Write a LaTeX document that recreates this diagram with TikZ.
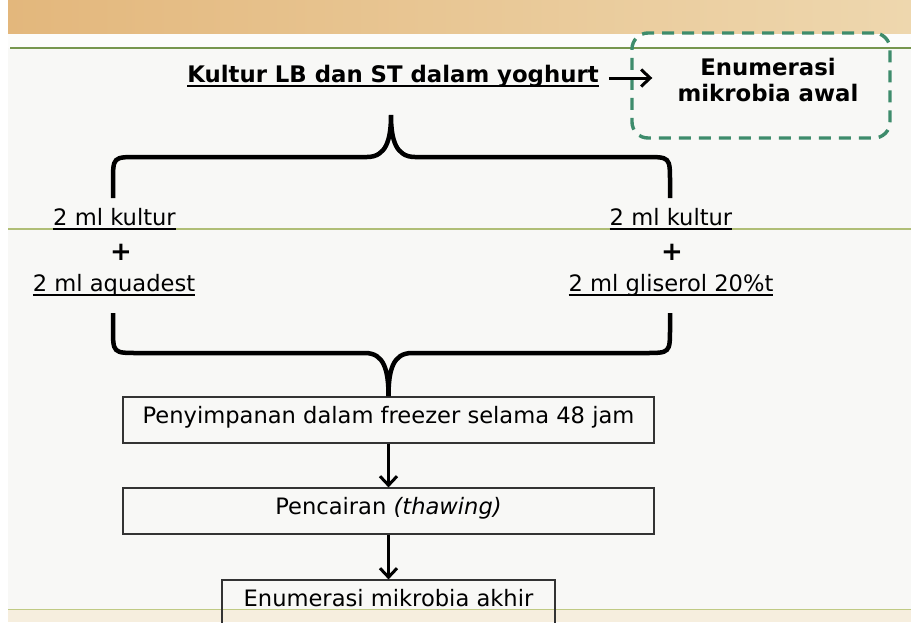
\documentclass[tikz,border=0pt]{standalone}
\usepackage{fontspec}
\setmainfont{DejaVu Sans}
\usetikzlibrary{arrows.meta}
\definecolor{bgc}{RGB}{248,248,246}
\definecolor{barL}{RGB}{227,183,124}
\definecolor{barR}{RGB}{238,215,174}
\definecolor{gTop}{RGB}{118,150,78}
\definecolor{gMid}{RGB}{176,190,118}
\definecolor{gBot}{RGB}{192,202,132}
\definecolor{tintB}{RGB}{246,238,222}
\definecolor{dashc}{RGB}{62,140,108}
\newcommand\myul[2][1.6pt]{\setbox0=\hbox{#2}\rlap{\rule[-5pt]{\wd0}{#1}}\box0}
\tikzset{
  txt/.style={inner sep=0pt, font=\fontsize{22.6}{26}\selectfont},
  btxt/.style={inner sep=0pt, font=\fontsize{22.8}{26}\selectfont\bfseries},
  plustxt/.style={inner sep=0pt, font=\fontsize{26}{26}\selectfont\bfseries},
  stepbox/.style={draw=black!80, line width=1.2pt, minimum height=46pt,
    text height=16pt, text depth=10pt, inner sep=0pt,
    font=\fontsize{22.6}{26}\selectfont},
  flow/.style={line width=3pt, -{Straight Barb[length=9pt,width=17pt]}},
  bracestyle/.style={line width=4.5pt},
  dashbox/.style={draw=dashc, line width=3.4pt, dash pattern=on 12pt off 8pt,
    rounded corners=16pt, minimum width=258pt, minimum height=105pt, inner sep=0pt}
}
\begin{document}
\begin{tikzpicture}[x=1pt,y=-1pt]
\useasboundingbox (0,0) rectangle (911,622);
\clip (0,0) rectangle (911,622);
% background
\fill[white] (0,0) rectangle (911,622);
\fill[bgc] (8,0) rectangle (911,622);
\shade[left color=barL, right color=barR] (8,0) rectangle (911,34);
\fill[white!60!bgc] (8,34) rectangle (911,48);
\draw[gTop, line width=1.5pt] (10,48) -- (911,48);
\draw[gMid, line width=1.3pt] (8,229) -- (911,229);
\fill[tintB] (8,610) rectangle (911,622);
\draw[gBot, line width=1.5pt] (8,609.5) -- (911,609.5);

% title and initial enumeration
\node[btxt, anchor=base] (title) at (393,82) {\myul[2.2pt]{Kultur LB dan ST dalam yoghurt}};
\node[dashbox] (dbox) at (761,85.5) {};
\node[btxt, align=center] (enum0) at (768,79.5) {Enumerasi\\mikrobia awal};
\coordinate (a1) at ([xshift=10pt,yshift=4pt]title.base east);
\coordinate (a2) at ([xshift=22pt]dbox.west |- a1);
\draw[flow] (a1) -- (a2);

% left and right mixtures
\node[txt, anchor=base] (lk) at (114.5,225) {\myul{2 ml kultur}};
\node[plustxt, anchor=base] (lp) at (121,260) {+};
\node[txt, anchor=base] (la) at (114,291) {\myul{2 ml aquadest}};
\node[txt, anchor=base] (rk) at (671,225) {\myul{2 ml kultur}};
\node[plustxt, anchor=base] (rp) at (672,260) {+};
\node[txt, anchor=base] (rg) at (671,291) {\myul{2 ml gliserol 20\%t}};

% process boxes
\node[stepbox, minimum width=531pt] (b1) at (388.5,420) {Penyimpanan dalam freezer selama 48 jam};
\node[stepbox, minimum width=531pt] (b2) at (388.5,511) {Pencairan \textit{(thawing)}};
\node[stepbox, minimum width=333pt] (b3) at (388.5,603) {Enumerasi mikrobia akhir};
\draw[flow] (b1.south) -- (b2.north);
\draw[flow] (b2.south) -- (b3.north);

% braces
\coordinate (tt) at (391,115);
\draw[bracestyle] (113,198) -- (113,182) .. controls (113,157) .. (138,157) -- (367,157)
  .. controls (386,157) and (391,140) .. (tt)
  .. controls (391,140) and (396,157) .. (415,157) -- (645,157)
  .. controls (670,157) .. (670,182) -- (670,198);
\draw[bracestyle] (113,313) -- (113,328) .. controls (113,353) .. (138,353) -- (365,353)
  .. controls (384,353) and (388.5,370) .. (b1.north)
  .. controls (388.5,370) and (393,353) .. (412,353) -- (645,353)
  .. controls (670,353) .. (670,328) -- (670,313);
\end{tikzpicture}
\end{document}
